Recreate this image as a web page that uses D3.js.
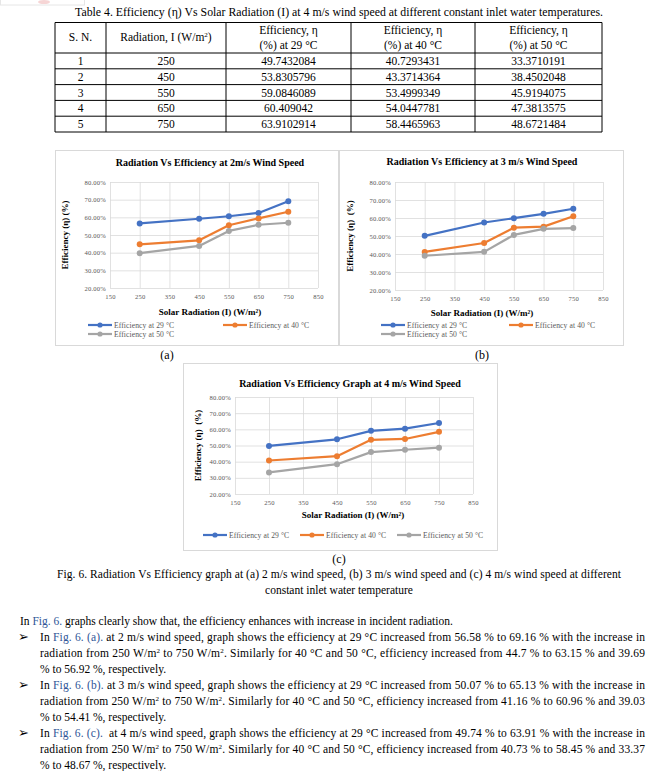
<!DOCTYPE html>
<html><head><meta charset="utf-8">
<script src="https://cdn.jsdelivr.net/npm/d3@7"></script>
<style>
body{margin:0;background:#fff}
svg{display:block}
text{font-family:"Liberation Serif","Times New Roman",serif}
</style>
</head><body>
<svg id="page" width="664" height="771"></svg>
<script>
// ---------------- DATA ----------------
const radiation = [250, 450, 550, 650, 750];
const serialNo = [1, 2, 3, 4, 5];
const seriesNames = ["Efficiency at 29 °C", "Efficiency at 40 °C", "Efficiency at 50 °C"];
const seriesColors = ["#4472c4", "#ed7d31", "#a5a5a5"];
const xTickValues = [150, 250, 350, 450, 550, 650, 750, 850];
const yTickValues = [20, 30, 40, 50, 60, 70, 80];

// (a) 2 m/s
const effA29 = [56.58, 59.2, 60.6, 62.5, 69.16];
const effA40 = [44.7, 47.0, 55.5, 59.4, 63.15];
const effA50 = [39.69, 43.8, 52.3, 55.8, 56.92];
// (b) 3 m/s
const effB29 = [50.07, 57.5, 59.9, 62.3, 65.13];
const effB40 = [41.16, 46.1, 54.6, 55.2, 60.96];
const effB50 = [39.03, 41.2, 50.6, 54.0, 54.41];
// (c) 4 m/s (Table 4)
const effC29 = [49.7432084, 53.8305796, 59.0846089, 60.409042, 63.9102914];
const effC40 = [40.7293431, 43.3714364, 53.4999349, 54.0447781, 58.4465963];
const effC50 = [33.3710191, 38.4502048, 45.9194075, 47.3813575, 48.6721484];

const tableTitle = "Table 4. Efficiency (η) Vs Solar Radiation (I) at 4 m/s wind speed at different constant inlet water temperatures.";
const captionLines = [
  "Fig. 6. Radiation Vs Efficiency graph at (a) 2 m/s wind speed, (b) 3 m/s wind speed and (c) 4 m/s wind speed at different",
  "constant inlet water temperature"
];
// [..] = link colour, ^2 = superscript 2
const paraLines = [
  {t: "In [Fig. 6.] graphs clearly show that, the efficiency enhances with increase in incident radiation.", x: 20, j: false},
  {t: "In [Fig. 6. (a).] at 2 m/s wind speed, graph shows the efficiency at 29 °C increased from 56.58 % to 69.16 % with the increase in", x: 40, j: true, bullet: true},
  {t: "radiation from 250 W/m^2 to 750 W/m^2. Similarly for 40 °C and 50 °C, efficiency increased from 44.7 % to 63.15 % and 39.69", x: 40, j: true},
  {t: "% to 56.92 %, respectively.", x: 40, j: false},
  {t: "In [Fig. 6. (b).] at 3 m/s wind speed, graph shows the efficiency at 29 °C increased from 50.07 % to 65.13 % with the increase in", x: 40, j: true, bullet: true},
  {t: "radiation from 250 W/m^2 to 750 W/m^2. Similarly for 40 °C and 50 °C, efficiency increased from 41.16 % to 60.96 % and 39.03", x: 40, j: true},
  {t: "% to 54.41 %, respectively.", x: 40, j: false},
  {t: "In [Fig. 6. (c).]  at 4 m/s wind speed, graph shows the efficiency at 29 °C increased from 49.74 % to 63.91 % with the increase in", x: 40, j: true, bullet: true},
  {t: "radiation from 250 W/m^2 to 750 W/m^2. Similarly for 40 °C and 50 °C, efficiency increased from 40.73 % to 58.45 % and 33.37", x: 40, j: true},
  {t: "% to 48.67 %, respectively.", x: 40, j: false}
];

// ---------------- DRAW ----------------
const svg = d3.select("#page");
svg.append("rect").attr("width", 664).attr("height", 771).attr("fill", "#fff");

// faint remnant top-left
svg.append("rect").attr("x", 0.5).attr("y", -2).attr("width", 84).attr("height", 7)
  .attr("fill", "none").attr("stroke", "#e6e6e6");
svg.append("ellipse").attr("cx", 44).attr("cy", 2).attr("rx", 6).attr("ry", 2).attr("fill", "#f6d5d5");

// ---- Table ----
const colEdges = [55, 106, 226, 351, 475, 602];
const rowEdges = [22.5, 53, 68.8, 84.6, 100.4, 116.2, 132];
const tg = svg.append("g");
tg.append("text").attr("x", 339).attr("y", 16).attr("text-anchor", "middle")
  .attr("font-size", 11.5).attr("fill", "#000").attr("textLength", 528).attr("lengthAdjust", "spacingAndGlyphs").text(tableTitle);
colEdges.forEach(cx => tg.append("line").attr("x1", cx).attr("x2", cx)
  .attr("y1", rowEdges[0]).attr("y2", rowEdges[rowEdges.length - 1]).attr("stroke", "#000").attr("stroke-width", 1));
rowEdges.forEach(ry => tg.append("line").attr("x1", colEdges[0]).attr("x2", colEdges[colEdges.length - 1])
  .attr("y1", ry).attr("y2", ry).attr("stroke", "#000").attr("stroke-width", 1));
const colCenter = i => (colEdges[i] + colEdges[i + 1]) / 2;
const cellFont = 11.5;
tg.append("text").attr("x", colCenter(0)).attr("y", 41).attr("text-anchor", "middle").attr("font-size", cellFont).text("S. N.");
const radHead = tg.append("text").attr("x", colCenter(1)).attr("y", 41).attr("text-anchor", "middle").attr("font-size", cellFont);
radHead.append("tspan").text("Radiation, I (W/m");
radHead.append("tspan").attr("font-size", 7).attr("dy", -4).text("2");
radHead.append("tspan").attr("dy", 4).text(")");
["29", "40", "50"].forEach((t, i) => {
  tg.append("text").attr("x", colCenter(i + 2)).attr("y", 34).attr("text-anchor", "middle").attr("font-size", cellFont).text("Efficiency, η");
  tg.append("text").attr("x", colCenter(i + 2)).attr("y", 49).attr("text-anchor", "middle").attr("font-size", cellFont).text(`(%) at ${t} °C`);
});
const tableCols = [serialNo, radiation, effC29, effC40, effC50];
serialNo.forEach((_, r) => {
  const yb = (rowEdges[r + 1] + rowEdges[r + 2]) / 2 + 4;
  tableCols.forEach((col, c) => {
    tg.append("text").attr("x", colCenter(c)).attr("y", yb).attr("text-anchor", "middle")
      .attr("font-size", cellFont).text(String(col[r]));
  });
});

// ---- Charts ----
function drawChart(cfg) {
  const g = svg.append("g");
  g.append("rect").attr("x", cfg.box[0] + 0.5).attr("y", cfg.box[1] + 0.5)
    .attr("width", cfg.box[2] - cfg.box[0]).attr("height", cfg.box[3] - cfg.box[1])
    .attr("fill", "#fff").attr("stroke", "#d9d9d9");
  const x = d3.scaleLinear().domain([150, 850]).range([cfg.l, cfg.r]);
  const y = d3.scaleLinear().domain([20, 80]).range([cfg.b, cfg.t]);

  const xa = g.append("g").attr("transform", `translate(0,${cfg.b})`)
    .call(d3.axisBottom(x).tickValues(xTickValues).tickSize(-(cfg.b - cfg.t)).tickPadding(6).tickFormat(d3.format("d")));
  const ya = g.append("g").attr("transform", `translate(${cfg.l},0)`)
    .call(d3.axisLeft(y).tickValues(yTickValues).tickSize(-(cfg.r - cfg.l)).tickPadding(4).tickFormat(d => d.toFixed(2) + "%"));
  [xa, ya].forEach(a => {
    a.select(".domain").remove();
    a.selectAll(".tick line").attr("stroke", "#d9d9d9").attr("stroke-width", 0.8);
    a.selectAll(".tick text").attr("font-size", 6.6).attr("fill", "#595959")
      .attr("font-family", "Liberation Serif").attr("letter-spacing", 0.2);
  });

  const line = d3.line().x((d, i) => x(radiation[i])).y(d => y(d));
  cfg.series.forEach((vals, s) => {
    g.append("path").datum(vals).attr("d", line).attr("fill", "none")
      .attr("stroke", seriesColors[s]).attr("stroke-width", 2.2).attr("stroke-linejoin", "round");
    g.selectAll(null).data(vals).enter().append("circle")
      .attr("cx", (d, i) => x(radiation[i])).attr("cy", d => y(d)).attr("r", 3)
      .attr("fill", seriesColors[s]);
  });

  g.append("text").attr("x", cfg.titleX).attr("y", cfg.titleY).attr("text-anchor", "middle")
    .attr("font-size", 10).attr("font-weight", "bold").attr("fill", "#000").text(cfg.title);
  g.append("text").attr("x", cfg.xTitleX).attr("y", cfg.xTitleY).attr("text-anchor", "middle")
    .attr("font-size", 9).attr("font-weight", "bold").text("Solar Radiation (I) (W/m²)");
  g.append("text").attr("transform", `translate(${cfg.yTitleX},${(cfg.t + cfg.b) / 2}) rotate(-90)`)
    .attr("text-anchor", "middle").attr("font-size", 9).attr("font-weight", "bold")
    .style("white-space", "pre").text(cfg.yTitle);

  cfg.legend.forEach((p, s) => {
    g.append("line").attr("x1", p[0]).attr("x2", p[0] + 24).attr("y1", p[1]).attr("y2", p[1])
      .attr("stroke", seriesColors[s]).attr("stroke-width", 2.2);
    g.append("circle").attr("cx", p[0] + 12).attr("cy", p[1]).attr("r", 2.6).attr("fill", seriesColors[s]);
    g.append("text").attr("x", p[0] + 26).attr("y", p[1] + 2.6).attr("font-size", 7.6)
      .attr("fill", "#595959").attr("letter-spacing", 0.1).text(seriesNames[s]);
  });
  g.append("text").attr("x", cfg.sub[0]).attr("y", cfg.sub[1]).attr("text-anchor", "middle")
    .attr("font-size", 12).text(cfg.sub[2]);
}

drawChart({
  box: [55, 150, 338, 345], l: 110, r: 318, t: 182, b: 288,
  series: [effA29, effA40, effA50],
  title: "Radiation Vs Efficiency at 2m/s Wind Speed", titleX: 210, titleY: 165.5,
  xTitleX: 210, xTitleY: 315, yTitleX: 68, yTitle: "Efficiency (η) (%)",
  legend: [[88, 325], [223, 325], [88, 334]], sub: [167, 359, "(a)"]
});
drawChart({
  box: [339, 150, 623, 345], l: 395, r: 603, t: 182, b: 290,
  series: [effB29, effB40, effB50],
  title: "Radiation Vs Efficiency at 3 m/s Wind Speed", titleX: 482, titleY: 164.5,
  xTitleX: 482, xTitleY: 316, yTitleX: 353, yTitle: "Efficiency (η)  (%)",
  legend: [[381, 325], [509, 325], [381, 334]], sub: [482, 359, "(b)"]
});
drawChart({
  box: [183, 363, 497, 550], l: 235, r: 473, t: 397, b: 494,
  series: [effC29, effC40, effC50],
  title: "Radiation Vs Efficiency Graph at 4 m/s Wind Speed", titleX: 350, titleY: 386.5,
  xTitleX: 353, xTitleY: 518, yTitleX: 201, yTitle: "Efficiency (η)  (%)",
  legend: [[203, 535], [300, 535], [397, 535]], sub: [339, 563, "(c)"]
});

// ---- Caption ----
svg.append("text").attr("x", 57).attr("y", 578).attr("font-size", 11.5)
  .attr("textLength", 564).attr("lengthAdjust", "spacing").text(captionLines[0]);
svg.append("text").attr("x", 339).attr("y", 594).attr("font-size", 11.5).attr("text-anchor", "middle").text(captionLines[1]);

// ---- Paragraph ----
paraLines.forEach((ln, i) => {
  const yb = 625 + i * 16;
  if (ln.bullet) svg.append("text").attr("x", 18).attr("y", yb).attr("font-size", 13)
    .attr("font-family", "DejaVu Sans").text("➢");
  const t = svg.append("text").attr("x", ln.x).attr("y", yb).attr("font-size", 11.5).style("white-space", "pre");
  if (ln.j) t.attr("textLength", 645 - ln.x).attr("lengthAdjust", "spacing");
  const parts = ln.t.split(/(\[[^\]]+\]|\^2)/).filter(p => p.length);
  let sup = false;
  parts.forEach(p => {
    if (p === "^2") {
      t.append("tspan").attr("font-size", 7).attr("dy", -4).text("2");
      sup = true;
    } else if (p[0] === "[") {
      t.append("tspan").attr("fill", "#2f5597").attr("dy", sup ? 4 : 0).text(p.slice(1, -1));
      sup = false;
    } else {
      t.append("tspan").attr("dy", sup ? 4 : 0).text(p);
      sup = false;
    }
  });
});
</script>
</body></html>
